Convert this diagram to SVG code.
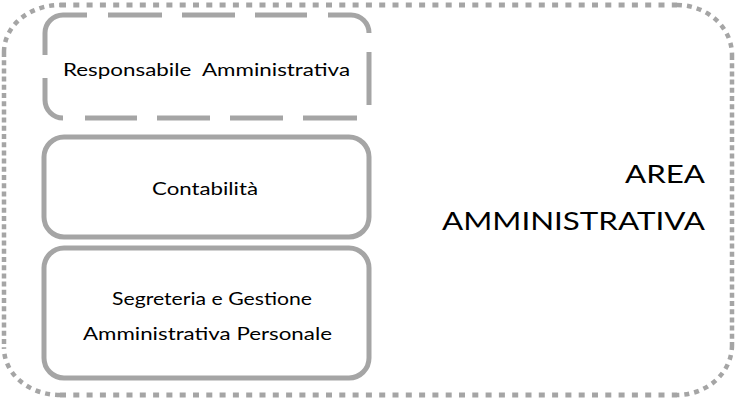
<svg xmlns="http://www.w3.org/2000/svg" width="735" height="401" viewBox="0 0 735 401">
<style>
.box{fill:#ffffff;stroke:#a5a5a5;stroke-width:5}
.dash{fill:none;stroke:#a5a5a5;stroke-width:5;stroke-linecap:butt}
.t{font-family:Lato,"Liberation Sans",sans-serif;font-size:18px;fill:#000}
.big{font-family:Lato,"Liberation Sans",sans-serif;font-size:25px;fill:#000}
.dotH{fill:none;stroke:#a5a5a5;stroke-width:5;stroke-dasharray:6 7.3}
.dotV{fill:none;stroke:#a5a5a5;stroke-width:4.5;stroke-dasharray:5 3.2}
</style>
<g id="area">
<path class="dotH" d="M60 5 H677"/>
<path class="dotH" d="M60 395 H677"/>
<path class="dotV" d="M4 52 V348"/>
<path class="dotV" d="M732 55 V345"/>
<path class="dotV" d="M4 52 A56 47 0 0 1 60 5" style="stroke-dasharray:5 5"/>
<path class="dotV" d="M677 5 A55 50 0 0 1 732 55" style="stroke-dasharray:5 5"/>
<path class="dotV" d="M732 345 A55 50 0 0 1 677 395" style="stroke-dasharray:5 5"/>
<path class="dotV" d="M60 395 A56 47 0 0 1 4 348" style="stroke-dasharray:5 5"/>
<text class="big" x="705" y="183" text-anchor="end" textLength="80" lengthAdjust="spacingAndGlyphs">AREA</text>
<text class="big" x="705" y="230" text-anchor="end" textLength="263" lengthAdjust="spacingAndGlyphs">AMMINISTRATIVA</text>
</g>
<g id="responsabile">
<rect x="45" y="15" width="324" height="103" rx="18" fill="#ffffff"/>
<path class="dash" d="M87 15 H63 A18 18 0 0 0 45 33 V55"/>
<path class="dash" d="M45 78 V100 A18 18 0 0 0 63 118"/>
<path class="dash" d="M85 118 H137 M157 118 H210 M230 118 H283 M303 118 H357"/>
<path class="dash" d="M108 15 H162 M182 15 H235 M255 15 H307"/>
<path class="dash" d="M328 15 H351 A18 18 0 0 1 369 33"/>
<path class="dash" d="M369 52 V105"/>
<text class="t" x="63" y="76" textLength="287" lengthAdjust="spacingAndGlyphs" xml:space="preserve">Responsabile  Amministrativa</text>
</g>
<g id="contabilita">
<rect class="box" x="44" y="137" width="325" height="100" rx="20"/>
<text class="t" x="152" y="195" textLength="106" lengthAdjust="spacingAndGlyphs">Contabilità</text>
</g>
<g id="segreteria">
<rect class="box" x="44" y="248" width="325" height="130" rx="20"/>
<text class="t" x="112" y="305" textLength="200" lengthAdjust="spacingAndGlyphs">Segreteria e Gestione</text>
<text class="t" x="83" y="340" textLength="249" lengthAdjust="spacingAndGlyphs">Amministrativa Personale</text>
</g>
<g id="connectors"></g>
</svg>
